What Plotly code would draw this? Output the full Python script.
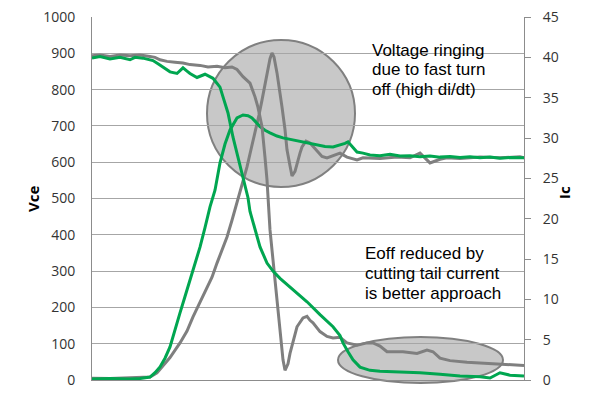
import plotly.graph_objects as go

# ---------------- data (x: time in arbitrary units, 0..432) ----------------
vce_gray_x = [0, 18, 38, 58, 65, 71, 78, 88, 95, 101, 108, 115, 120, 125, 130, 135, 140, 145, 150,
              155, 159, 163, 167, 170, 173, 176, 178, 180, 182, 185, 188, 190, 193, 195, 198, 200,
              203, 205, 208, 210, 214, 218, 222, 226, 230, 235, 241, 248, 255, 265, 271, 278, 288,
              305, 318, 328, 338, 348, 355, 368, 388, 408, 428, 432]
vce_gray = [5, 4, 6, 8, 20, 40, 62, 102, 135, 174, 215, 256, 283, 322, 357, 394, 440, 488, 537,
            587, 635, 680, 730, 771, 815, 862, 885, 901, 890, 846, 795, 752, 690, 634, 590, 562,
            575, 598, 625, 642, 658, 653, 640, 628, 616, 612, 618, 625, 614, 606, 612, 612, 610,
            614, 612, 625, 598, 608, 612, 610, 614, 612, 615, 612]

vce_green_x = [0, 18, 38, 48, 58, 63, 68, 73, 78, 83, 88, 93, 98, 103, 108, 113, 118, 123, 128,
               133, 138, 145, 151, 156, 160, 168, 173, 178, 185, 191, 198, 208, 218, 225, 233,
               241, 248, 253, 256, 258, 263, 265, 271, 278, 288, 298, 308, 318, 328, 338, 348,
               358, 368, 378, 388, 398, 408, 418, 432]
vce_green = [3, 4, 3, 4, 8, 20, 36, 60, 91, 135, 185, 230, 275, 320, 366, 420, 477, 523, 598,
             650, 689, 722, 730, 728, 722, 698, 688, 681, 672, 667, 663, 656, 650, 647, 643,
             642, 647, 652, 656, 650, 634, 628, 625, 620, 618, 622, 617, 618, 615, 617, 614,
             616, 613, 615, 612, 614, 611, 613, 612]

ic_gray_x = [0, 8, 18, 28, 38, 48, 58, 63, 68, 75, 83, 91, 98, 108, 116, 125, 133, 140, 145,
             151, 158, 163, 166, 170, 173, 175, 178, 183, 188, 191, 193, 196, 198, 205, 211, 215,
             218, 221, 228, 235, 241, 248, 255, 265, 275, 281, 288, 295, 311, 325, 335, 341,
             348, 358, 375, 391, 408, 418, 432]
ic_gray = [40.2, 40.3, 40.1, 40.3, 40.2, 40.3, 40.1, 40.0, 39.7, 39.5, 39.4, 39.3, 39.1, 39.0,
           38.8, 38.9, 38.7, 38.8, 38.5, 37.6, 36.8, 35.1, 33.8, 31.4, 27.6, 24.8, 18.6, 12.4,
           6.2, 2.5, 1.2, 2.0, 3.3, 6.6, 7.7, 7.9, 7.4, 7.1, 6.0, 5.4, 5.2, 5.3, 4.6, 4.3, 4.6,
           4.6, 4.2, 3.5, 3.5, 3.3, 3.7, 3.5, 2.7, 2.4, 2.2, 2.1, 1.9, 1.9, 1.8]

ic_green_x = [0, 8, 18, 28, 38, 43, 51, 58, 61, 66, 71, 75, 78, 85, 91, 95, 98, 105, 113, 121,
              128, 131, 136, 141, 146, 151, 156, 158, 163, 168, 175, 181, 188, 201, 208, 215,
              228, 241, 248, 251, 256, 261, 268, 278, 288, 308, 328, 348, 368, 388, 398, 408,
              418, 432]
ic_green = [39.9, 40.1, 39.8, 40.0, 39.7, 40.0, 39.9, 39.7, 39.6, 39.2, 38.8, 38.4, 38.2, 38.0,
            38.7, 38.3, 38.0, 37.5, 37.9, 37.4, 36.3, 35.1, 33.1, 30.1, 27.6, 25.1, 22.6, 20.9,
            18.6, 16.5, 14.5, 13.5, 12.6, 11.2, 10.4, 9.7, 8.1, 6.6, 5.5, 4.6, 3.5, 2.5, 1.6,
            1.2, 1.1, 1.0, 0.9, 0.7, 0.5, 0.4, 0.25, 0.9, 0.6, 0.5]

vce_ticks = [0, 100, 200, 300, 400, 500, 600, 700, 800, 900, 1000]
ic_ticks = [0, 5, 10, 15, 20, 25, 30, 35, 40, 45]

notes_ringing = ["Voltage ringing", "due to fast turn", "off (high di/dt)"]
notes_eoff = ["Eoff reduced by", "cutting tail current", "is better approach"]

# ---------------- figure ----------------
GRAY = "#7f7f7f"
GREEN = "#00a650"
OFF = 8                       # page body margin in the browser
W, H = 590 - OFF, 393 - OFF   # figure size
# plot area in window pixels
L, R, T, B = 92, 524, 17, 380


def px_x(p):
    return (p - L) / (R - L)


def px_y(p):
    return (B - p) / (B - T)


fig = go.Figure()
fig.add_trace(go.Scatter(x=vce_gray_x, y=vce_gray, mode="lines",
                         line=dict(color=GRAY, width=3), yaxis="y", name="Vce"))
fig.add_trace(go.Scatter(x=ic_gray_x, y=ic_gray, mode="lines",
                         line=dict(color=GRAY, width=3), yaxis="y2", name="Ic"))
fig.add_trace(go.Scatter(x=vce_green_x, y=vce_green, mode="lines",
                         line=dict(color=GREEN, width=3), yaxis="y", name="Vce2"))
fig.add_trace(go.Scatter(x=ic_green_x, y=ic_green, mode="lines",
                         line=dict(color=GREEN, width=3), yaxis="y2", name="Ic2"))

shapes = [
    # big circle around the ringing
    dict(type="circle", xref="paper", yref="paper", layer="between",
         x0=px_x(207), x1=px_x(355), y0=px_y(187), y1=px_y(40),
         fillcolor="#c8c8c8", line=dict(color="#808080", width=2)),
    # small ellipse around tail current
    dict(type="circle", xref="paper", yref="paper", layer="between",
         x0=px_x(338), x1=px_x(503), y0=px_y(383), y1=px_y(337),
         fillcolor="#c8c8c8", line=dict(color="#808080", width=2)),
    # white text boxes
    dict(type="rect", xref="paper", yref="paper", layer="between",
         x0=px_x(358), x1=px_x(505), y0=px_y(108), y1=px_y(32),
         fillcolor="white", line=dict(width=0)),
    dict(type="rect", xref="paper", yref="paper", layer="between",
         x0=px_x(352), x1=px_x(517), y0=px_y(316), y1=px_y(226),
         fillcolor="white", line=dict(width=0)),
]

TXT_FONT = dict(family="Liberation Sans, Arial, sans-serif", size=17, color="black")
annotations = []
for i, t in enumerate(notes_ringing):
    annotations.append(dict(text=t, xref="paper", yref="paper", x=px_x(370),
                            y=px_y(50 + 19.7 * i), xanchor="left", yanchor="middle",
                            showarrow=False, font=TXT_FONT))
for i, t in enumerate(notes_eoff):
    annotations.append(dict(text=t, xref="paper", yref="paper", x=px_x(363),
                            y=px_y(253 + 20 * i), xanchor="left", yanchor="middle",
                            showarrow=False, font=TXT_FONT))

TITLE_FONT = dict(family="Open Sans, sans-serif", size=15, color="black")
annotations.append(dict(text="<b>Vce</b>", xref="paper", yref="paper", x=px_x(33),
                        y=px_y(199), textangle=-90, showarrow=False, font=TITLE_FONT,
                        xanchor="center", yanchor="middle"))
annotations.append(dict(text="<b>Ic</b>", xref="paper", yref="paper", x=px_x(564),
                        y=px_y(193), textangle=-90, showarrow=False, font=TITLE_FONT,
                        xanchor="center", yanchor="middle"))

TICK_FONT = dict(family="Open Sans, sans-serif", size=14, color="#333333")
fig.update_layout(
    width=W, height=H,
    margin=dict(l=L - OFF, r=W - (R - OFF), t=T - OFF, b=H - (B - OFF), autoexpand=False),
    paper_bgcolor="white", plot_bgcolor="white",
    showlegend=False,
    shapes=shapes,
    annotations=annotations,
    xaxis=dict(range=[0, R - L], showticklabels=False, showgrid=False, zeroline=False,
               showline=True, linecolor="#8c8c8c", linewidth=1, ticks="", automargin=False),
    yaxis=dict(range=[0, 1000], tickvals=vce_ticks, ticktext=[str(v) for v in vce_ticks],
               showgrid=True, gridcolor="#a6a6a6", gridwidth=1, zeroline=False,
               showline=True, linecolor="#8c8c8c", linewidth=1, ticks="",
               tickfont=TICK_FONT, ticklabelstandoff=13, automargin=False,
               ticklabeloverflow="allow"),
    yaxis2=dict(range=[0, 45], tickvals=ic_ticks, ticktext=[str(v) for v in ic_ticks],
                overlaying="y", side="right", showgrid=False, zeroline=False,
                showline=True, linecolor="#8c8c8c", linewidth=1, ticks="outside",
                ticklen=6, tickcolor="#8c8c8c", tickfont=TICK_FONT, ticklabelstandoff=9,
                automargin=False, ticklabeloverflow="allow"),
)

fig.write_html("out.html")
